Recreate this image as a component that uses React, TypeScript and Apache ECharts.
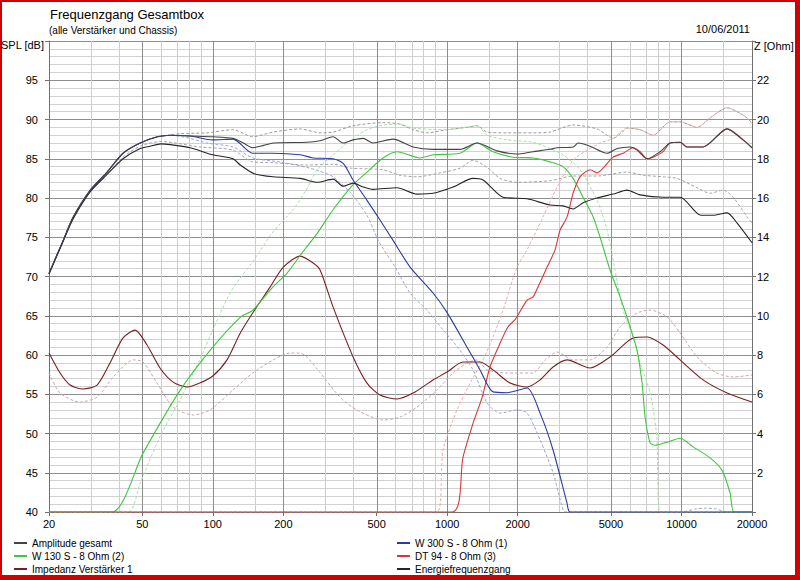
import React, { useEffect, useRef } from 'react';
import * as echarts from 'echarts';

// ---------- axis / grid values ----------
const X_LABEL_FREQS = [20, 50, 100, 200, 500, 1000, 2000, 5000, 10000, 20000];
const GRID_DARK_FREQS = [50, 100, 200, 500, 1000, 2000, 5000, 10000];
const GRID_LIGHT_FREQS = [30, 40, 60, 70, 80, 90, 150, 300, 400, 600, 700, 800, 900, 1500, 3000, 4000, 6000, 7000, 8000, 9000, 15000];

// ---------- series data (frequency in Hz, SPL in dB / impedance in Ohm) ----------
const AMP_F = [20, 23, 25.3, 30, 35.4, 41.4, 49, 58, 66, 80, 100, 122, 135, 148, 165, 181, 252, 287, 326, 360, 397, 438, 483, 588, 716, 871, 1135, 1342, 1634, 1988, 2327, 2750, 2946, 3448, 3622, 4074, 4816, 5312, 6036, 6466, 7135, 8106, 8946, 9868, 10572, 12368, 15660, 18327, 20000];
const AMP_V = [70.4, 74.6, 77.5, 81.0, 83.3, 85.7, 87.0, 87.8, 88.0, 87.9, 87.8, 87.6, 87.0, 86.4, 86.7, 87.0, 87.1, 87.3, 87.8, 87.0, 87.4, 87.6, 87.0, 87.5, 86.5, 86.2, 86.2, 87.0, 86.0, 85.6, 85.9, 86.2, 86.4, 86.5, 87.0, 86.6, 85.7, 86.3, 86.5, 86.1, 85.0, 85.9, 87.0, 87.1, 86.5, 86.5, 88.8, 87.4, 86.4];

const W130_F = [20, 37.1, 50.4, 72.5, 100, 131, 148, 181, 207, 243, 279, 326, 397, 455, 533, 611, 766, 871, 1135, 1342, 1570, 1912, 2327, 2750, 3124, 3448, 3803, 4196, 4495, 4960, 5472, 6036, 6466, 6792, 6996, 7348, 7718, 8684, 9868, 11210, 13252, 14912, 16126, 16774, 20000];
const W130_V = [40, 40, 47.5, 55.5, 61.0, 64.8, 65.7, 68.7, 70.4, 73.2, 75.5, 78.5, 81.7, 83.3, 85.1, 85.9, 85.1, 85.5, 85.7, 87.0, 85.9, 85.2, 85.1, 84.6, 84.0, 82.5, 80.1, 77.6, 75.0, 70.8, 67.4, 63.6, 60.6, 56.4, 52.1, 48.8, 48.5, 48.9, 49.4, 48.3, 46.9, 45.3, 42.4, 40, 40];

const IMP_F = [20, 22.3, 24.6, 27.9, 32.1, 36.4, 41.4, 46.6, 52.4, 59.5, 67.7, 77.6, 88, 100, 115, 131, 148, 175.5, 200, 236, 268, 287, 326, 397, 455, 517, 611, 716, 871, 1000, 1169, 1382, 1570, 1857, 2194, 2492, 2832, 3250, 4074, 4960, 6217, 7135, 8349, 9868, 12368, 15660, 20000];
const IMP_V = [8.1, 7.08, 6.47, 6.27, 6.47, 7.59, 8.87, 9.27, 8.51, 7.34, 6.62, 6.37, 6.57, 6.93, 7.75, 9.12, 10.14, 11.46, 12.48, 13.04, 12.69, 12.33, 10.45, 7.9, 6.57, 5.96, 5.76, 6.06, 6.73, 7.13, 7.64, 7.64, 7.24, 6.57, 6.37, 6.73, 7.39, 7.75, 7.34, 7.9, 8.87, 8.92, 8.51, 7.75, 6.73, 6.06, 5.6];

const W300_F = [20, 23, 25.3, 30, 35.4, 41.4, 49, 58, 66, 80, 100, 122, 148, 181, 236, 268, 326, 360, 397, 455, 517, 588, 695, 871, 1000, 1216, 1382, 1570, 1802, 2194, 2492, 2832, 3250, 3346, 20000];
const W300_V = [70.4, 74.6, 77.5, 81.0, 83.3, 85.7, 87.0, 87.8, 88.0, 87.9, 87.4, 87.5, 85.7, 85.7, 85.5, 85.1, 85.0, 84.4, 82.3, 79.7, 77.2, 74.6, 71.2, 67.9, 65.4, 61.0, 58.1, 55.3, 55.2, 55.8, 52.6, 47.9, 41.1, 40, 40];

const DT94_F = [20, 1050, 1169, 1290, 1410, 1525, 1682, 1820, 1950, 2194, 2327, 2444, 2671, 2888, 3034, 3250, 3448, 3692, 4074, 4364, 4628, 5108, 5636, 6217, 6660, 7135, 7568, 8349, 8946, 9868, 10572, 12368, 15660, 18327, 20000];
const DT94_V = [40, 40, 47.0, 51.3, 54.6, 58.5, 61.5, 63.6, 64.5, 67.0, 67.4, 68.7, 71.2, 73.4, 75.9, 77.6, 80.6, 82.7, 83.6, 83.2, 83.8, 85.2, 85.7, 86.4, 85.9, 85.0, 85.2, 85.9, 87.0, 87.1, 86.5, 86.5, 88.8, 87.4, 86.4];

const ENERGY_F = [20, 23, 25.3, 30, 35.4, 41.4, 49, 54, 60, 66, 80, 100, 122, 131, 150, 181, 236, 279, 326, 360, 397, 438, 483, 611, 744, 871, 1060, 1290, 1424, 1732, 2194, 2750, 3124, 3448, 3803, 4364, 5108, 5861, 6660, 8349, 9868, 12118, 13646, 15660, 17280, 20000];
const ENERGY_V = [70.3, 74.5, 77.3, 80.8, 83.0, 85.0, 86.3, 86.6, 86.9, 86.8, 86.4, 85.5, 85.0, 84.2, 83.1, 82.7, 82.5, 82.0, 82.4, 81.5, 81.9, 81.4, 81.1, 81.3, 80.5, 80.6, 81.4, 82.5, 82.3, 80.1, 79.9, 79.1, 79.0, 78.6, 79.4, 80.0, 80.5, 81.0, 80.4, 80.1, 80.1, 77.8, 77.8, 78.1, 76.8, 74.3];

// dashed (second measurement) curves
const AMP2_F = [20, 23, 25.3, 30, 35.4, 41.4, 49, 58, 66, 72.5, 94.5, 122, 148, 181, 236, 287, 326, 397, 533, 630, 716, 821, 1000, 1216, 1342, 1481, 1802, 2327, 2750, 3448, 4364, 4816, 5108, 5636, 5861, 6660, 7568, 8946, 9868, 11660, 13252, 15660, 17280, 19060, 20000];
const AMP2_V = [70.4, 74.6, 77.5, 81.0, 83.3, 85.7, 87.0, 87.8, 88.0, 88.2, 88.3, 88.7, 87.8, 88.4, 88.8, 88.3, 88.4, 89.2, 89.6, 89.4, 88.7, 88.3, 88.7, 89.0, 89.2, 88.4, 88.3, 88.3, 88.4, 89.3, 88.8, 88.0, 87.6, 88.5, 88.9, 88.7, 88.0, 89.7, 89.7, 89.0, 90.2, 91.5, 91.0, 90.2, 89.5];

const ENERGY2_F = [20, 23, 25.3, 30, 35.4, 41.4, 49, 60, 88, 122, 148, 181, 252, 326, 389, 533, 630, 744, 933, 1135, 1290, 1481, 1682, 1988, 2750, 3448, 4364, 5861, 6880, 8349, 9578, 11660, 13252, 15056, 16612, 19060, 20000];
const ENERGY2_V = [70.3, 74.5, 77.3, 80.8, 83.0, 85.2, 86.6, 87.2, 86.5, 86.1, 84.6, 84.5, 84.2, 84.3, 83.8, 83.6, 82.9, 82.7, 83.2, 83.8, 84.8, 83.9, 82.5, 82.0, 82.2, 82.8, 82.8, 83.3, 82.9, 82.7, 82.5, 81.3, 80.6, 81.0, 80.1, 77.6, 76.8];

const W300B_F = [20, 23, 25.3, 30, 35.4, 41.4, 49, 58, 66, 80, 94.5, 122, 148, 193, 252, 287, 326, 389, 455, 510, 600, 695, 821, 961, 1135, 1290, 1481, 1682, 1988, 2194, 2492, 2832, 3133, 3250, 10000, 11500, 12500, 14000, 15500, 20000];
const W300B_V = [70.4, 74.6, 77.5, 81.0, 83.3, 85.7, 87.0, 87.8, 88.0, 87.6, 87.0, 86.5, 85.1, 84.6, 83.9, 83.4, 82.7, 80.6, 77.8, 74.5, 71.2, 67.9, 65.7, 63.2, 60.6, 58.1, 53.9, 52.6, 53.0, 52.6, 49.2, 45.0, 40.2, 40, 40, 40.4, 40.5, 40.4, 40, 40];

const W130B_F = [20, 43.5, 49, 59.5, 72.5, 88, 100, 118.5, 131, 144, 157, 181, 220, 250, 279, 326, 397, 455, 533, 630, 716, 1000, 1342, 1481, 1802, 2327, 2750, 3124, 3692, 4364, 4816, 5636, 6217, 6660, 7348, 7848, 8106, 20000];
const W130B_V = [40, 40, 43.7, 49.6, 54.3, 59.4, 63.2, 67.9, 69.8, 71.4, 73.0, 75.7, 78.5, 81.0, 83.6, 85.5, 87.6, 88.7, 89.3, 89.4, 88.9, 88.7, 89.2, 88.0, 87.4, 87.1, 86.3, 85.5, 83.6, 79.7, 75.9, 65.7, 62.3, 59.0, 55.2, 49.6, 40, 40];

const DT94B_F = [20, 906, 961, 1102, 1253, 1424, 1570, 1732, 1988, 2194, 2568, 2946, 3448, 3956, 4495, 5108, 5861, 6660, 7568, 8946, 9868, 11660, 13252, 15660, 17280, 19060, 20000];
const DT94B_V = [40, 40, 47.9, 53.0, 56.4, 59.4, 62.3, 65.7, 71.2, 73.4, 77.6, 81.4, 84.8, 86.1, 87.0, 87.6, 88.9, 88.7, 88.0, 89.7, 89.7, 89.0, 90.2, 91.5, 91.0, 90.2, 89.5];

const IMPB_F = [20, 22.3, 27.1, 32.1, 37.6, 45.8, 50.4, 57.8, 67.7, 82.6, 97.3, 122, 148, 181, 214, 236, 252, 287, 349, 411, 533, 630, 744, 906, 1060, 1216, 1342, 1481, 1802, 2327, 2600, 2946, 3448, 4074, 4816, 5472, 6466, 7348, 8684, 9868, 11660, 14152, 16612, 20000];
const IMPB_V = [7.08, 6.06, 5.6, 5.86, 6.88, 7.75, 7.64, 6.57, 5.35, 4.94, 5.2, 6.22, 7.08, 7.75, 8.1, 8.1, 7.9, 7.1, 5.86, 5.2, 4.69, 4.84, 5.35, 6.22, 7.08, 7.59, 7.75, 7.24, 7.08, 7.08, 7.7, 8.15, 7.75, 7.75, 8.41, 9.43, 10.14, 10.29, 9.94, 9.12, 7.9, 7.08, 6.88, 6.98];

const FONT = '"Liberation Sans", Arial, sans-serif';
const LX = (f: number) => Math.log10(f);
const pairs = (fs: number[], vs: number[]) => fs.map((f, i) => [LX(f), vs[i]]);

function solid(name: string, color: string, fs: number[], vs: number[], yIdx = 0, z = 3) {
  return {
    name, type: 'line', yAxisIndex: yIdx, data: pairs(fs, vs), showSymbol: false, symbol: 'none',
    smooth: 0.25, color, z, silent: true,
    lineStyle: { color, width: 1.1 },
  };
}
function dashed(color: string, fs: number[], vs: number[], yIdx = 0) {
  return {
    type: 'line', yAxisIndex: yIdx, data: pairs(fs, vs), showSymbol: false, symbol: 'none',
    smooth: 0.25, color, z: 2, silent: true,
    lineStyle: { color, width: 1, type: [3, 2] },
  };
}

export default function App() {
  const ref = useRef<HTMLDivElement>(null);
  useEffect(() => {
    document.body.style.margin = '0';
    const chart = echarts.init(ref.current!, null, { renderer: 'svg' });
    const axisColor = '#707070';
    const labelStyle = { fontSize: 11, fontFamily: FONT, color: '#000' };
    const option: any = {
      animation: false,
      backgroundColor: '#ffffff',
      grid: { left: 49, top: 41, right: 48, bottom: 68 },
      xAxis: {
        type: 'value', min: LX(20), max: LX(20000),
        axisLine: { show: true, lineStyle: { color: axisColor } },
        axisTick: { show: true, customValues: X_LABEL_FREQS.map(LX), length: 4, lineStyle: { color: axisColor } },
        axisLabel: { customValues: X_LABEL_FREQS.map(LX), formatter: (v: number) => String(Math.round(Math.pow(10, v))), margin: 6, ...labelStyle },
        splitLine: { show: false },
      },
      yAxis: [
        {
          type: 'value', min: 40, max: 100, interval: 5, position: 'left',
          axisLine: { show: true, lineStyle: { color: axisColor } },
          axisTick: { show: true, length: 4, lineStyle: { color: axisColor } },
          axisLabel: { formatter: (v: number) => (v >= 100 ? '' : String(v)), margin: 11, ...labelStyle },
          splitLine: { show: true, lineStyle: { color: '#8e8e8e', width: 1 } },
          minorTick: { show: false, splitNumber: 5 },
          minorSplitLine: { show: true, lineStyle: { color: '#d2d2d2', width: 1 } },
        },
        {
          type: 'value', min: 0, max: 24, interval: 2, position: 'right',
          axisLine: { show: true, lineStyle: { color: axisColor } },
          axisTick: { show: true, length: 4, lineStyle: { color: axisColor } },
          axisLabel: { formatter: (v: number) => (v <= 0 || v >= 24 ? '' : String(v)), margin: 5, ...labelStyle },
          splitLine: { show: false },
        },
      ],
      legend: [
        {
          data: ['Amplitude gesamt', 'W 130 S - 8 Ohm (2)', 'Impedanz Verstärker 1'],
          orient: 'vertical', left: 9, top: 532, itemWidth: 13, itemHeight: 2, itemGap: 1, icon: 'rect',
          selectedMode: false, textStyle: { fontSize: 10, fontFamily: FONT, color: '#000', lineHeight: 12 },
        },
        {
          data: ['W 300 S - 8 Ohm (1)', 'DT 94 - 8 Ohm (3)', 'Energiefrequenzgang'],
          orient: 'vertical', left: 392, top: 532, itemWidth: 13, itemHeight: 2, itemGap: 1, icon: 'rect',
          selectedMode: false, textStyle: { fontSize: 10, fontFamily: FONT, color: '#000', lineHeight: 12 },
        },
      ],
      graphic: [
        { type: 'rect', z: -10, silent: true, shape: { x: 0, y: 0, width: 800, height: 580 }, style: { fill: 'none', stroke: '#d40000', lineWidth: 4 } },
        { type: 'rect', z: -10, silent: true, shape: { x: 795, y: 0, width: 5, height: 580 }, style: { fill: '#d40000' } },
        { type: 'rect', z: -10, silent: true, shape: { x: 0, y: 575, width: 800, height: 5 }, style: { fill: '#d40000' } },
        { type: 'text', x: 50, y: 8, silent: true, style: { text: 'Frequenzgang Gesamtbox', font: `13px ${FONT}`, fill: '#000', align: 'left', verticalAlign: 'top' } },
        { type: 'text', x: 49, y: 25, silent: true, style: { text: '(alle Verstärker und Chassis)', font: `10px ${FONT}`, fill: '#000', align: 'left', verticalAlign: 'top' } },
        { type: 'text', x: 750, y: 23, silent: true, style: { text: '10/06/2011', font: `11px ${FONT}`, fill: '#000', align: 'right', verticalAlign: 'top' } },
        { type: 'text', x: 44, y: 39, silent: true, style: { text: 'SPL [dB]', font: `11px ${FONT}`, fill: '#000', align: 'right', verticalAlign: 'top' } },
        { type: 'text', x: 754, y: 40, silent: true, style: { text: 'Z [Ohm]', font: `11px ${FONT}`, fill: '#000', align: 'left', verticalAlign: 'top' } },
      ],
      series: [
        {
          type: 'line', data: [], silent: true, z: 1,
          markLine: {
            silent: true, z: 1, symbol: ['none', 'none'], label: { show: false }, animation: false,
            data: [
              ...GRID_LIGHT_FREQS.map((f) => ({ xAxis: LX(f), lineStyle: { color: '#cdcdcd', width: 1, type: 'solid' } })),
              ...GRID_DARK_FREQS.map((f) => ({ xAxis: LX(f), lineStyle: { color: '#8e8e8e', width: 1, type: 'solid' } })),
            ],
          },
        },
        dashed('#9a9a9a', AMP2_F, AMP2_V),
        dashed('#a4a4a4', ENERGY2_F, ENERGY2_V),
        dashed('#9aa6d4', W300B_F, W300B_V),
        dashed('#a6e0a6', W130B_F, W130B_V),
        dashed('#eeaaaa', DT94B_F, DT94B_V),
        dashed('#c8a8a8', IMPB_F, IMPB_V, 1),
        solid('Impedanz Verstärker 1', '#7a1f1f', IMP_F, IMP_V, 1),
        solid('W 130 S - 8 Ohm (2)', '#3cc83c', W130_F, W130_V),
        solid('DT 94 - 8 Ohm (3)', '#d83838', DT94_F, DT94_V),
        solid('W 300 S - 8 Ohm (1)', '#2a3aa8', W300_F, W300_V),
        solid('Energiefrequenzgang', '#262626', ENERGY_F, ENERGY_V),
        solid('Amplitude gesamt', '#444444', AMP_F, AMP_V),
      ],
    };
    chart.setOption(option);
    return () => chart.dispose();
  }, []);
  return <div ref={ref} style={{ width: 800, height: 580 }} />;
}
